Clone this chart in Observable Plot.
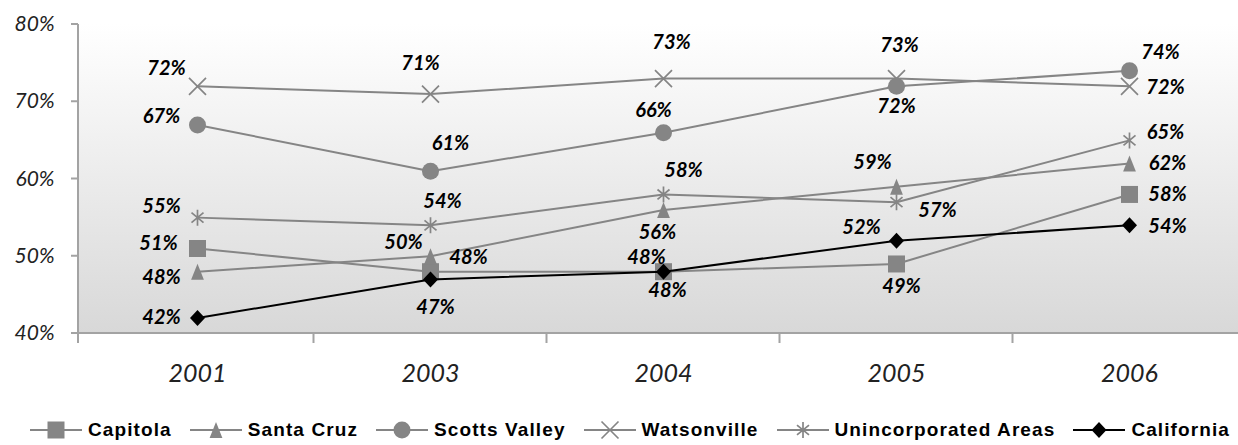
<!DOCTYPE html>
<html><head><meta charset="utf-8">
<script src="https://cdn.jsdelivr.net/npm/d3@7"></script>
<script src="https://cdn.jsdelivr.net/npm/@observablehq/plot@0.6"></script>
<style>
body{margin:0;background:#fff;width:1238px;height:445px;overflow:hidden}
#legend{display:flex;justify-content:center;align-items:center;height:30px;padding-top:15px;padding-left:22px;font-family:"Liberation Sans",Arial,sans-serif;font-weight:bold;font-size:19px;letter-spacing:1.1px;color:#000;white-space:nowrap}
.item{display:flex;align-items:center;margin:0 9px}
.item svg{margin-right:6px;overflow:visible}
</style></head><body>
<div id="chart"></div><div id="legend"></div>
<script>
// ---- data ----
const years = ["2001", "2003", "2004", "2005", "2006"];
const seriesNames = ["Capitola", "Santa Cruz", "Scotts Valley", "Watsonville", "Unincorporated Areas", "California"];
const capitola      = [51, 48, 48, 49, 58];
const santaCruz     = [48, 50, 56, 59, 62];
const scottsValley  = [67, 61, 66, 72, 74];
const watsonville   = [72, 71, 73, 73, 72];
const unincorporated= [55, 54, 58, 57, 65];
const california    = [42, 47, 48, 52, 54];
const yTicks = [40, 50, 60, 70, 80];

// ---- label placement (offsets of each value label from its point) ----
const labelNudge = {
  "Capitola":             [[-39,-5],[38,-14],[4,19],[5,23],[38,0]],
  "Santa Cruz":           [[-36,6],[-27,-14],[-6,23],[-24,-24],[38,0]],
  "Scotts Valley":        [[-36,-8],[20,-28],[-10,-22],[0,20],[31,-18]],
  "Watsonville":          [[-31,-18],[-10,-30],[8,-36],[3,-33],[36,1]],
  "Unincorporated Areas": [[-36,-11],[12,-24],[20,-24],[41,8],[36,-8]],
  "California":           [[-36,0],[5,28],[-17,-14],[-35,-13],[38,1]]
};

// ---- symbols ----
const sqSym = {draw(c, s){ const r = Math.sqrt(s/Math.PI); c.rect(-r, -r, 2*r, 2*r); }};
const triSym = {draw(c, s){ const r = Math.sqrt(s/Math.PI); c.moveTo(0,-r); c.lineTo(0.8*r, r); c.lineTo(-0.8*r, r); c.closePath(); }};
const circSym = {draw(c, s){ const r = Math.sqrt(s/Math.PI); c.moveTo(r,0); c.arc(0,0,r,0,2*Math.PI); }};
const timesSym = {draw(c, s){ const r = Math.sqrt(s/Math.PI); c.moveTo(-r,-r); c.lineTo(r,r); c.moveTo(-r,r); c.lineTo(r,-r); }};
const asterSym = {draw(c, s){ const r = Math.sqrt(s/Math.PI); c.moveTo(-0.75*r,-0.62*r); c.lineTo(0.75*r,0.62*r); c.moveTo(-0.75*r,0.62*r); c.lineTo(0.75*r,-0.62*r); c.moveTo(0,-r); c.lineTo(0,r); }};
const diaSym = {draw(c, s){ const r = Math.sqrt(s/Math.PI); c.moveTo(0,-r); c.lineTo(0.94*r,0); c.lineTo(0,r); c.lineTo(-0.94*r,0); c.closePath(); }};

const GRAY = "#858585";
const styles = {
  "Capitola":             {values: capitola,       line: GRAY, sym: sqSym,    r: 8.5, fill: GRAY, stroke: "none"},
  "Santa Cruz":           {values: santaCruz,      line: GRAY, sym: triSym,   r: 8,   fill: GRAY, stroke: "none"},
  "Scotts Valley":        {values: scottsValley,   line: GRAY, sym: circSym,  r: 8.5, fill: GRAY, stroke: "none"},
  "Watsonville":          {values: watsonville,    line: GRAY, sym: timesSym, r: 8.5, fill: "none", stroke: GRAY},
  "Unincorporated Areas": {values: unincorporated, line: GRAY, sym: asterSym, r: 8,   fill: "none", stroke: GRAY},
  "California":           {values: california,     line: "#000", sym: diaSym, r: 8,   fill: "#000", stroke: "none"}
};

const rows = seriesNames.flatMap(name => styles[name].values.map((v, i) => ({series: name, year: years[i], value: v, i})));

// background gradient plot area
const bgMark = (index, scales, values, dims) => {
  const g = d3.create("svg:g");
  const grad = g.append("defs").append("linearGradient").attr("id", "bg").attr("x1", 0).attr("y1", 0).attr("x2", 0).attr("y2", 1);
  grad.append("stop").attr("offset", "0%").attr("stop-color", "#ffffff");
  grad.append("stop").attr("offset", "100%").attr("stop-color", "#d8d8d8");
  const x0 = dims.marginLeft, x1 = dims.width - dims.marginRight, y0 = dims.marginTop, y1 = dims.height - dims.marginBottom;
  g.append("rect").attr("x", x0).attr("y", y0).attr("width", x1 - x0).attr("height", y1 - y0).attr("fill", "url(#bg)");
  return g.node();
};

// axis lines and ticks
const axesMark = (index, {x, y}, values, dims) => {
  const g = d3.create("svg:g").attr("stroke", "#a3a3a3").attr("stroke-width", 2).attr("fill", "none");
  const x0 = dims.marginLeft - 1, x1 = dims.width, yb = dims.height - dims.marginBottom;
  const step = x(years[1]) - x(years[0]);
  g.append("line").attr("x1", x0).attr("x2", x0).attr("y1", y(yTicks[yTicks.length-1])).attr("y2", yb + 10);
  for (const t of yTicks) g.append("line").attr("x1", x0 - 7).attr("x2", x0).attr("y1", y(t)).attr("y2", y(t));
  g.append("line").attr("x1", x0).attr("x2", x1).attr("y1", yb).attr("y2", yb);
  for (const yr of years) { const bx = x(yr) + step / 2; g.append("line").attr("x1", bx).attr("x2", bx).attr("y1", yb).attr("y2", yb + 10); }
  return g.node();
};

const marks = [bgMark, axesMark,
  Plot.axisY({ticks: yTicks, label: null, tickSize: 0, tickPadding: 25, tickFormat: d => d + "%", fontSize: 21, fontStyle: "italic", fontFamily: "Lato", fill: "#222"}),
  Plot.axisX({label: null, tickSize: 0, tickPadding: 31, fontSize: 25, fontStyle: "italic", fontFamily: "Lato", fill: "#222"})
];
for (const name of seriesNames) {
  const st = styles[name];
  const data = rows.filter(d => d.series === name);
  marks.push(Plot.line(data, {x: "year", y: "value", stroke: st.line, strokeWidth: 2}));
  marks.push(Plot.dot(data, {x: "year", y: "value", symbol: st.sym, r: st.r, fill: st.fill, stroke: st.stroke, strokeWidth: 1.7}));
}
for (const d of rows) {
  const [dx, dy] = labelNudge[d.series][d.i];
  marks.push(Plot.text([d], {x: "year", y: "value", text: d => d.value + "%", dx, dy,
    fontFamily: "Lato", fontStyle: "italic", fontWeight: "bold", fontSize: 20, fill: "#000"}));
}

const chart = Plot.plot({
  width: 1238, height: 400,
  marginLeft: 79, marginRight: 0, marginTop: 24, marginBottom: 67,
  x: {type: "point", domain: years, range: [197, 1129], padding: 0, axis: null},
  y: {domain: [40, 80], axis: null},
  style: {background: "transparent", overflow: "visible"},
  marks
});
document.getElementById("chart").append(chart);

// legend
const legend = d3.select("#legend");
for (const name of seriesNames) {
  const st = styles[name];
  const item = legend.append("div").attr("class", "item");
  const svg = item.append("svg").attr("width", 52).attr("height", 20);
  svg.append("line").attr("x1", 0).attr("x2", 52).attr("y1", 10).attr("y2", 10).attr("stroke", st.line).attr("stroke-width", 2);
  svg.append("path").attr("transform", "translate(26,10)")
    .attr("d", d3.symbol(st.sym, st.r * st.r * Math.PI)())
    .attr("fill", st.fill).attr("stroke", st.stroke).attr("stroke-width", 1.7);
  item.append("span").text(name);
}
</script>
</body></html>
